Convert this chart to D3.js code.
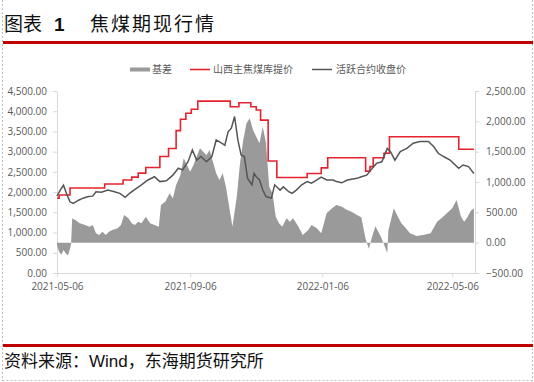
<!DOCTYPE html>
<html>
<head>
<meta charset="utf-8">
<script src="https://cdn.jsdelivr.net/npm/d3@7"></script>
<style>
  body { margin: 0; background: #fff; }
  svg { display: block; }
  .axis text { fill: #595959; font-family: "Open Sans", "Noto Sans CJK SC", sans-serif; font-size: 10px; }
  .axis path, .axis line { stroke: #d9d9d9; }
</style>
</head>
<body>
<div id="chart"></div>
<script>
// 山西主焦煤库提价 (step changes)
const spotDates = ['2021-05-06','2021-05-08','2021-05-18','2021-06-19','2021-07-06','2021-07-14','2021-07-20','2021-07-27',
  '2021-08-09','2021-08-17','2021-08-24','2021-08-28','2021-09-02','2021-09-07','2021-09-13','2021-10-13','2021-10-21',
  '2021-11-01','2021-11-06','2021-11-10','2021-11-17','2021-11-25','2021-12-23','2022-01-05','2022-01-11','2022-02-15',
  '2022-02-19','2022-02-22','2022-03-04','2022-03-09','2022-05-12','2022-05-26'];
const spotValues = [1850,1930,2100,2200,2300,2370,2470,2610,
  2880,3080,3520,3800,3950,4050,4250,4110,4210,
  4110,4030,3780,2770,2360,2460,2600,2850,2520,
  2630,2850,2960,3370,3060,3060];

// 活跃合约收盘价
const futDates = ['2021-05-06','2021-05-09','2021-05-12','2021-05-15','2021-05-18','2021-05-21','2021-05-26','2021-05-30',
  '2021-06-04','2021-06-08','2021-06-11','2021-06-16','2021-06-22','2021-06-28','2021-07-03','2021-07-08','2021-07-12',
  '2021-07-17','2021-07-23','2021-07-29','2021-08-04','2021-08-09','2021-08-15','2021-08-21','2021-08-26','2021-08-30',
  '2021-09-04','2021-09-08','2021-09-12','2021-09-16','2021-09-21','2021-09-26','2021-09-30','2021-10-05','2021-10-08',
  '2021-10-11','2021-10-14','2021-10-17','2021-10-20','2021-10-23','2021-10-26','2021-10-29','2021-11-02','2021-11-04',
  '2021-11-06','2021-11-09','2021-11-12','2021-11-15','2021-11-20','2021-11-23','2021-11-28','2021-12-01','2021-12-06',
  '2021-12-09','2021-12-13','2021-12-18','2021-12-23','2021-12-27','2022-01-01','2022-01-05','2022-01-10','2022-01-16',
  '2022-01-19','2022-01-24','2022-01-29','2022-02-02','2022-02-07','2022-02-11','2022-02-16','2022-02-20','2022-02-25',
  '2022-03-02','2022-03-07','2022-03-10','2022-03-14','2022-03-19','2022-03-25','2022-03-31','2022-04-06','2022-04-14',
  '2022-04-19','2022-04-23','2022-04-28','2022-05-04','2022-05-12','2022-05-16','2022-05-21','2022-05-26'];
const futValues = [1900,2050,2170,1950,1760,1720,1800,1850,
  1890,1900,2010,1995,2050,2010,1970,1870,1970,
  2070,2180,2300,2380,2260,2280,2420,2590,2550,
  2750,3040,2790,2880,2750,2880,3290,3210,3160,
  3490,3580,3870,3290,2920,2880,2340,2180,2460,
  2380,2300,2050,1890,1850,2180,2050,2130,2010,
  1970,2050,2180,2260,2220,2300,2370,2300,2300,
  2260,2230,2300,2320,2340,2380,2420,2550,2710,
  2750,3080,3000,2790,3000,3080,3210,3250,3250,
  3120,2960,2880,2790,2590,2670,2630,2460];

// 基差 (right axis)
const basisDates = ['2021-05-06','2021-05-08','2021-05-10','2021-05-12','2021-05-14','2021-05-16','2021-05-18','2021-05-19',
  '2021-05-20','2021-05-23','2021-05-27','2021-06-01','2021-06-05','2021-06-08','2021-06-11','2021-06-14','2021-06-17',
  '2021-06-20','2021-06-23','2021-06-26','2021-07-01','2021-07-04','2021-07-07','2021-07-11','2021-07-14','2021-07-17',
  '2021-07-20','2021-07-23','2021-07-27','2021-07-31','2021-08-04','2021-08-08','2021-08-10','2021-08-14','2021-08-18',
  '2021-08-21','2021-08-24','2021-08-28','2021-08-31','2021-09-03','2021-09-06','2021-09-09','2021-09-12','2021-09-15',
  '2021-09-18','2021-09-21','2021-09-24','2021-09-27','2021-09-30','2021-10-03','2021-10-06','2021-10-09','2021-10-12',
  '2021-10-15','2021-10-19','2021-10-22','2021-10-25','2021-10-28','2021-10-31','2021-11-03','2021-11-06','2021-11-09',
  '2021-11-12','2021-11-15','2021-11-18','2021-11-21','2021-11-24','2021-11-27','2021-11-30','2021-12-04','2021-12-07',
  '2021-12-10','2021-12-15','2021-12-19','2021-12-24','2021-12-27','2022-01-01','2022-01-05','2022-01-10','2022-01-15',
  '2022-01-19','2022-01-24','2022-01-29','2022-02-02','2022-02-07','2022-02-11','2022-02-15','2022-02-18','2022-02-21',
  '2022-02-24','2022-03-01','2022-03-04','2022-03-07','2022-03-08','2022-03-11','2022-03-13','2022-03-17','2022-03-20',
  '2022-03-23','2022-03-28','2022-04-03','2022-04-09','2022-04-16','2022-04-22','2022-04-27','2022-05-01','2022-05-06',
  '2022-05-10','2022-05-14','2022-05-17','2022-05-20','2022-05-23','2022-05-26'];
const basisValues = [-40,-150,-200,-120,-175,-210,-100,-20,
  400,374,319,291,263,291,154,126,181,
  126,181,209,237,291,456,402,319,291,
  346,319,428,319,291,263,621,675,814,
  731,950,1115,1390,1280,1170,1280,1417,1555,
  1499,1445,1527,1334,1143,1033,1143,922,593,
  263,758,1308,1692,1967,2050,1857,1746,1638,
  1911,1638,922,814,428,319,263,402,346,
  402,263,126,209,291,237,154,484,566,
  621,593,538,510,456,420,60,-100,98,
  270,100,-30,-175,200,420,566,420,319,
  263,154,110,126,154,346,420,484,566,
  703,430,346,420,520,566];

const xTicks = ['2021-05-06','2021-09-06','2022-01-06','2022-05-06'];
const leftTicks = [0,500,1000,1500,2000,2500,3000,3500,4000,4500];
const rightTicks = [-500,0,500,1000,1500,2000,2500];

const width = 534;
const height = 382;
const parse = d3.timeParse('%Y-%m-%d');

const svg = d3.select('#chart').append('svg')
  .attr('width', width)
  .attr('height', height);

// page frame (dashed) and red rules
const frame = svg.append('g')
  .attr('stroke', '#bdbdbd')
  .attr('stroke-dasharray', '2,2')
  .attr('fill', 'none');
frame.append('line').attr('x1', 2.5).attr('x2', 2.5).attr('y1', 0).attr('y2', 381);
frame.append('line').attr('x1', 532.5).attr('x2', 532.5).attr('y1', 0).attr('y2', 381);
frame.append('line').attr('x1', 2.5).attr('x2', 532.5).attr('y1', 380.5).attr('y2', 380.5);

svg.append('rect').attr('x', 3).attr('y', 41).attr('width', 530).attr('height', 3).attr('fill', '#c00000');
svg.append('rect').attr('x', 3).attr('y', 344).attr('width', 530).attr('height', 3).attr('fill', '#c00000');

// title
const title = svg.append('text')
  .attr('x', 4)
  .attr('y', 31)
  .attr('font-family', '"Noto Sans CJK SC", sans-serif')
  .attr('font-size', 19)
  .attr('fill', '#111');
title.append('tspan').text('图表');
title.append('tspan').attr('dx', 12).attr('font-weight', 'bold').attr('font-family', 'Arial, "Liberation Sans", sans-serif').text('1');
title.append('tspan').attr('x', 90).attr('letter-spacing', 2).text('焦煤期现行情');

// source
const src = svg.append('text')
  .attr('x', 4)
  .attr('y', 367)
  .attr('font-family', '"Noto Sans CJK SC", sans-serif')
  .attr('font-size', 17)
  .attr('fill', '#111');
src.append('tspan').text('资料来源：');
src.append('tspan').attr('font-family', 'Arial, "Liberation Sans", sans-serif').text('Wind');
src.append('tspan').text('，东海期货研究所');

// scales
const xScale = d3.scaleTime()
  .domain([parse('2021-05-06'), parse('2022-05-27')])
  .range([57, 475]);

const yLeft = d3.scaleLinear()
  .domain([0, 4500])
  .range([273, 91]);

const yRight = d3.scaleLinear()
  .domain([-500, 2500])
  .range([273, 91]);

// axes
const xAxis = d3.axisBottom(xScale)
  .tickValues(xTicks.map(parse))
  .tickFormat(d3.timeFormat('%Y-%m-%d'))
  .tickSize(4)
  .tickSizeOuter(0);

svg.append('g')
  .attr('class', 'axis x')
  .attr('transform', 'translate(0,273)')
  .call(xAxis)
  .selectAll('text').attr('dy', '0.95em').attr('font-size', 10.5);

const leftAxis = d3.axisLeft(yLeft)
  .tickValues(leftTicks)
  .tickFormat(d3.format(',.2f'))
  .tickSize(4)
  .tickSizeOuter(0)
  .tickPadding(6);

svg.append('g')
  .attr('class', 'axis y-left')
  .attr('transform', 'translate(57,0)')
  .call(leftAxis)
  .selectAll('text').attr('font-size', 10.5);

const rightAxis = d3.axisRight(yRight)
  .tickValues(rightTicks)
  .tickFormat(d3.format(',.2f'))
  .tickSize(4)
  .tickSizeOuter(0)
  .tickPadding(7);

svg.append('g')
  .attr('class', 'axis y-right')
  .attr('transform', 'translate(475,0)')
  .call(rightAxis)
  .selectAll('text').attr('font-size', 10.5);

// series
const basis = basisDates.map((d, i) => ({ date: parse(d), value: basisValues[i] }));
const spot = spotDates.map((d, i) => ({ date: parse(d), value: spotValues[i] }));
const fut = futDates.map((d, i) => ({ date: parse(d), value: futValues[i] }));

const basisArea = d3.area()
  .x((d) => xScale(d.date))
  .y0(yRight(0))
  .y1((d) => yRight(d.value));

svg.append('path')
  .attr('d', basisArea(basis))
  .style('fill', '#9a9a9a');

const spotLine = d3.line()
  .curve(d3.curveStepAfter)
  .x((d) => xScale(d.date))
  .y((d) => yLeft(d.value));

svg.append('path')
  .attr('d', spotLine(spot))
  .style('fill', 'none')
  .style('stroke', '#e5232e')
  .style('stroke-width', '1.6px');

const futLine = d3.line()
  .x((d) => xScale(d.date))
  .y((d) => yLeft(d.value));

svg.append('path')
  .attr('d', futLine(fut))
  .style('fill', 'none')
  .style('stroke', '#555555')
  .style('stroke-width', '1.5px');

// legend
const legend = svg.append('g')
  .attr('font-family', '"Noto Sans CJK SC", sans-serif')
  .attr('font-size', 10)
  .attr('fill', '#595959');

legend.append('rect').attr('x', 130).attr('y', 67.5).attr('width', 20).attr('height', 4).attr('fill', '#9a9a9a');
legend.append('text').attr('x', 152).attr('y', 73).text('基差');

legend.append('line').attr('x1', 190).attr('x2', 210).attr('y1', 69.5).attr('y2', 69.5)
  .attr('stroke', '#e5232e').attr('stroke-width', 1.6);
legend.append('text').attr('x', 213).attr('y', 73).text('山西主焦煤库提价');

legend.append('line').attr('x1', 312).attr('x2', 332).attr('y1', 69.5).attr('y2', 69.5)
  .attr('stroke', '#555555').attr('stroke-width', 1.5);
legend.append('text').attr('x', 336).attr('y', 73).text('活跃合约收盘价');
</script>
</body>
</html>
